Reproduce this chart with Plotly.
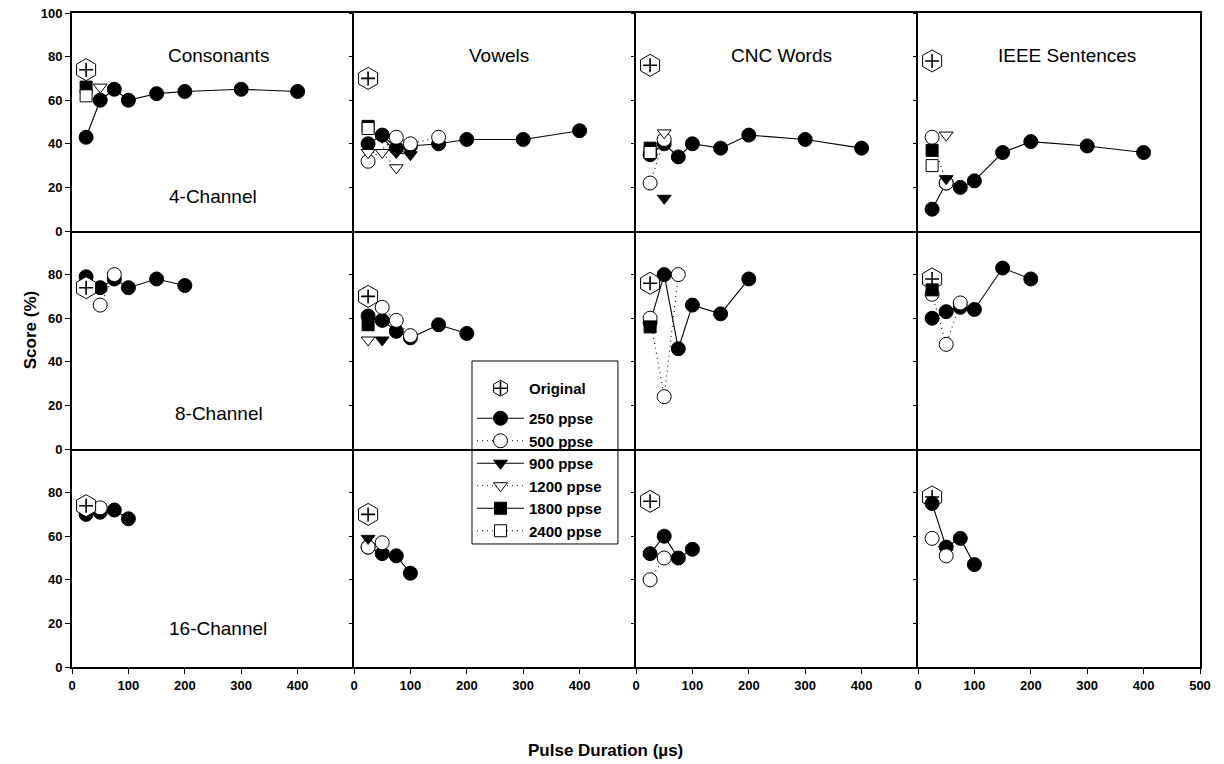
import plotly.graph_objects as go
from plotly.subplots import make_subplots

TESTS = ["Consonants", "Vowels", "CNC Words", "IEEE Sentences"]
CHANNELS = ["4-Channel", "8-Channel", "16-Channel"]
SERIES = ["250 ppse", "500 ppse", "900 ppse", "1200 ppse", "1800 ppse", "2400 ppse"]

ORIGINAL_X = 25
ORIGINAL = [74, 70, 76, 78]  # per test, same for every channel row

X_TICKS = [0, 100, 200, 300, 400]
X_TICKS_LAST = [0, 100, 200, 300, 400, 500]
Y_TICKS_TOP = [0, 20, 40, 60, 80, 100]
Y_TICKS = [0, 20, 40, 60, 80]

# ---- 4-channel ----
CONS_4 = {
    "250 ppse": ([25, 50, 75, 100, 150, 200, 300, 400], [43, 60, 65, 60, 63, 64, 65, 64]),
    "1200 ppse": ([50], [66]),
    "1800 ppse": ([25], [66]),
    "2400 ppse": ([25], [62]),
}
VOW_4 = {
    "250 ppse": ([25, 50, 75, 100, 150, 200, 300, 400], [40, 44, 38, 39, 40, 42, 42, 46]),
    "500 ppse": ([25, 75, 100, 150], [32, 43, 40, 43]),
    "900 ppse": ([50, 75, 100], [43, 36, 35]),
    "1200 ppse": ([25, 50, 75], [36, 36, 29]),
    "1800 ppse": ([25], [48]),
    "2400 ppse": ([25], [47]),
}
CNC_4 = {
    "250 ppse": ([25, 50, 75, 100, 150, 200, 300, 400], [35, 40, 34, 40, 38, 44, 42, 38]),
    "500 ppse": ([25, 50], [22, 42]),
    "900 ppse": ([50], [15]),
    "1200 ppse": ([50], [45]),
    "1800 ppse": ([25], [38]),
    "2400 ppse": ([25], [36]),
}
IEEE_4 = {
    "250 ppse": ([25, 50, 75, 100, 150, 200, 300, 400], [10, 22, 20, 23, 36, 41, 39, 36]),
    "500 ppse": ([25, 50], [43, 22]),
    "900 ppse": ([50], [24]),
    "1200 ppse": ([50], [44]),
    "1800 ppse": ([25], [37]),
    "2400 ppse": ([25], [30]),
}
# ---- 8-channel ----
CONS_8 = {
    "250 ppse": ([25, 50, 75, 100, 150, 200], [79, 74, 78, 74, 78, 75]),
    "500 ppse": ([50, 75], [66, 80]),
}
VOW_8 = {
    "250 ppse": ([25, 50, 75, 100, 150, 200], [61, 59, 54, 51, 57, 53]),
    "500 ppse": ([50, 75, 100], [65, 59, 52]),
    "900 ppse": ([50], [50]),
    "1200 ppse": ([25], [50]),
    "1800 ppse": ([25], [57]),
}
CNC_8 = {
    "250 ppse": ([25, 50, 75, 100, 150, 200], [58, 80, 46, 66, 62, 78]),
    "500 ppse": ([25, 50, 75], [60, 24, 80]),
    "1800 ppse": ([25], [56]),
}
IEEE_8 = {
    "250 ppse": ([25, 50, 75, 100, 150, 200], [60, 63, 65, 64, 83, 78]),
    "500 ppse": ([25, 50, 75], [71, 48, 67]),
    "1800 ppse": ([25], [73]),
}
# ---- 16-channel ----
CONS_16 = {
    "250 ppse": ([25, 50, 75, 100], [70, 71, 72, 68]),
    "500 ppse": ([50], [73]),
}
VOW_16 = {
    "250 ppse": ([25, 50, 75, 100], [55, 52, 51, 43]),
    "500 ppse": ([25, 50], [55, 57]),
    "900 ppse": ([25], [59]),
}
CNC_16 = {
    "250 ppse": ([25, 50, 75, 100], [52, 60, 50, 54]),
    "500 ppse": ([25, 50], [40, 50]),
}
IEEE_16 = {
    "250 ppse": ([25, 50, 75, 100], [75, 55, 59, 47]),
    "500 ppse": ([25, 50], [59, 51]),
}

PANELS = [
    [CONS_4, VOW_4, CNC_4, IEEE_4],
    [CONS_8, VOW_8, CNC_8, IEEE_8],
    [CONS_16, VOW_16, CNC_16, IEEE_16],
]

STYLE = {
    "250 ppse": ("circle", "black", "solid", 14),
    "500 ppse": ("circle", "white", "1px,4px", 14),
    "900 ppse": ("triangle-down", "black", "solid", 12),
    "1200 ppse": ("triangle-down", "white", "1px,4px", 12),
    "1800 ppse": ("square", "black", "solid", 12),
    "2400 ppse": ("square", "white", "1px,4px", 12),
}
ORIGINAL_ON_TOP = [True, True, False, False]  # per test column

FONT = "Arial, Liberation Sans, sans-serif"
TITLE_X = [0.518, 0.514, 0.516, 0.528]
CHANNEL_X = [0.50, 0.52, 0.517]
CHANNEL_Y = [0.156, 0.162, 0.177]

fig = make_subplots(rows=3, cols=4, horizontal_spacing=0, vertical_spacing=0)


def add_original(r, c):
    first = (r == 0 and c == 0)
    fig.add_trace(go.Scatter(
        x=[ORIGINAL_X], y=[ORIGINAL[c]], mode="markers", name="Original",
        legend="legend", showlegend=first,
        marker=dict(symbol="hexagon", size=22, color="white",
                    line=dict(color="black", width=1)),
    ), row=r + 1, col=c + 1)
    fig.add_trace(go.Scatter(
        x=[ORIGINAL_X], y=[ORIGINAL[c]], mode="markers", name=" ",
        legend="legend3", showlegend=first,
        marker=dict(symbol="cross-thin", size=10, color="black",
                    line=dict(color="black", width=1.6)),
    ), row=r + 1, col=c + 1)


shown = set()
for r in range(3):
    for c in range(4):
        if not ORIGINAL_ON_TOP[c]:
            add_original(r, c)
        panel = PANELS[r][c]
        for s in SERIES:
            if s not in panel:
                continue
            xs, ys = panel[s]
            sym, fill, dash, size = STYLE[s]
            fig.add_trace(go.Scatter(
                x=xs, y=ys, mode="lines+markers", name=s,
                legend="legend2", legendrank=SERIES.index(s) + 1,
                showlegend=(s not in shown),
                line=dict(color="black", width=1.1, dash=dash),
                marker=dict(symbol=sym, size=size, color=fill,
                            line=dict(color="black", width=1)),
            ), row=r + 1, col=c + 1)
            shown.add(s)
        if ORIGINAL_ON_TOP[c]:
            add_original(r, c)

for r in range(3):
    for c in range(4):
        fig.update_xaxes(
            range=[0, 500], showline=True, mirror=(r == 0), linecolor="black", linewidth=2,
            showgrid=False, zeroline=False, automargin=False,
            tickvals=(X_TICKS_LAST if c == 3 else X_TICKS),
            ticks="outside" if r == 2 else "", ticklen=5, tickcolor="black",
            showticklabels=(r == 2),
            tickfont=dict(family=FONT, size=13, color="black", weight="bold"),
            row=r + 1, col=c + 1)
        fig.update_yaxes(
            range=[0, 100], showline=True, mirror=(c == 3), linecolor="black", linewidth=2,
            showgrid=False, zeroline=False, automargin=False,
            tickvals=(Y_TICKS_TOP if r == 0 else Y_TICKS),
            ticks="outside", ticklen=5 if c == 0 else 3, tickcolor="black",
            showticklabels=(c == 0),
            tickfont=dict(family=FONT, size=13, color="black", weight="bold"),
            row=r + 1, col=c + 1)

annotations = []
for c, t in enumerate(TESTS):
    xref = "x domain" if c == 0 else f"x{c + 1} domain"
    yref = "y domain" if c == 0 else f"y{c + 1} domain"
    annotations.append(dict(text=t, x=TITLE_X[c], y=0.803, xref=xref, yref=yref,
                            showarrow=False, xanchor="center", yanchor="middle",
                            font=dict(family=FONT, size=19, color="black")))
for r, ch in enumerate(CHANNELS):
    idx = r * 4 + 1
    xref = "x domain" if idx == 1 else f"x{idx} domain"
    yref = "y domain" if idx == 1 else f"y{idx} domain"
    annotations.append(dict(text=ch, x=CHANNEL_X[r], y=CHANNEL_Y[r], xref=xref, yref=yref,
                            showarrow=False, xanchor="center", yanchor="middle",
                            font=dict(family=FONT, size=19, color="black")))
annotations.append(dict(text="Score (%)", x=-0.0372, y=0.515, xref="paper", yref="paper",
                        textangle=-90, showarrow=False, xanchor="center", yanchor="middle",
                        font=dict(family=FONT, size=17, color="black", weight="bold")))
annotations.append(dict(text="Pulse Duration (µs)", x=0.4734, y=-0.127, xref="paper", yref="paper",
                        showarrow=False, xanchor="center", yanchor="middle",
                        font=dict(family=FONT, size=17, color="black", weight="bold")))

LEG_X = 0.3546
leg_common = dict(x=LEG_X, xanchor="left", yanchor="top", bgcolor="rgba(0,0,0,0)",
                  borderwidth=0, itemwidth=47, tracegroupgap=0, traceorder="normal",
                  font=dict(family=FONT, size=15, color="black", weight="bold"))

fig.update_layout(
    width=1224, height=764,
    margin=dict(l=72, r=24, t=13, b=97, autoexpand=False),
    paper_bgcolor="white", plot_bgcolor="white",
    annotations=annotations,
    legend=dict(y=0.4511, **leg_common),
    legend3=dict(y=0.4511, **leg_common),
    legend2=dict(y=0.4052, **leg_common),
    shapes=[dict(type="rect", xref="paper", yref="paper", x0=0.3546, x1=0.4840,
                 y0=0.1881, y1=0.4679, line=dict(color="black", width=1), layer="below",
                 fillcolor="white")],
)

fig.write_html("out.html")
